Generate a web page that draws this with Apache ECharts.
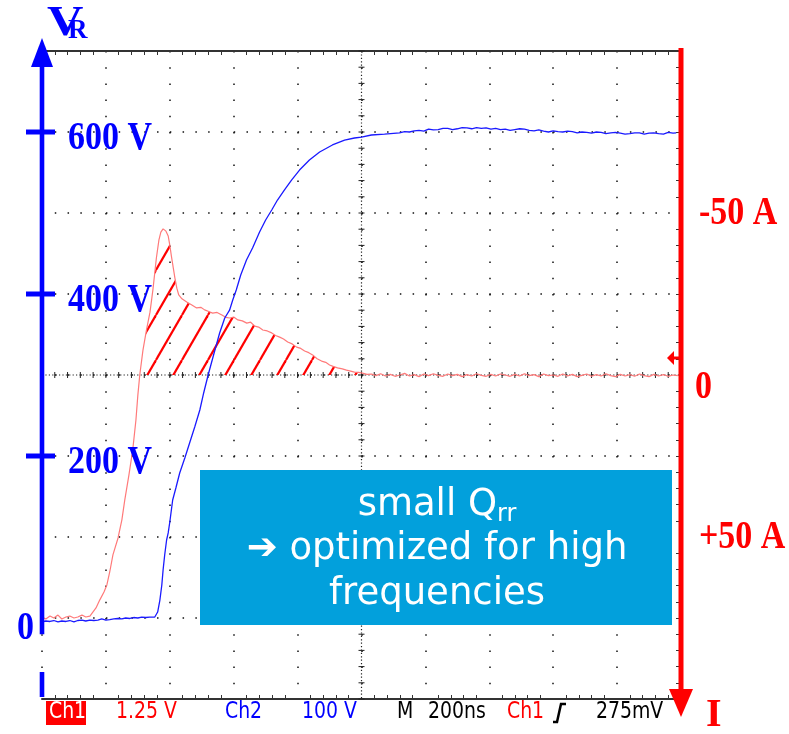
<!DOCTYPE html>
<html>
<head>
<meta charset="utf-8">
<script src="https://cdn.jsdelivr.net/npm/echarts@6/dist/echarts.min.js"></script>
<style>
html, body { margin: 0; padding: 0; background: #fff; }
#main { width: 789px; height: 734px; }
</style>
</head>
<body>
<div id="main"></div>
<script>
// time in ns (200 ns / div), voltage in V (100 V / div), current in A (25 A / div, axis pointing down)
var voltTicks = [0, 200, 400, 600];
var ampTicks = [-50, 0, 50];

// Ch2: reverse voltage V_R
var voltTrace = [
  [0,-4.9],[12,-3.7],[25,-4.3],[37,-3.1],[50,-4.9],[62,-3.7],[75,-4.3],[87,-3.1],[100,-4.9],[112,-3.1],
  [125,-2.5],[137,-3.7],[150,-2.5],[162,-3.1],[175,-2.5],[187,-1.2],[200,-2.5],[212,-1.9],[225,-1.2],
  [237,-0.6],[250,-1.2],[262,0],[275,-0.6],[287,0.6],[300,0],[312,1.2],[325,0.6],[337,1.2],[353,1.2],
  [362,7.4],[369,22.2],[375,40.7],[379,59.3],[384,77.8],[390,96.3],[395,105],[400,118.5],[409,145.7],
  [419,160.5],[431,179],[447,197.5],[462,216],[478,235.8],[494,256.8],[506,277.8],[520,300],[537,324.7],
  [556,351.9],[572,370.4],[587,380],[597,392.6],[608,405],[622,423.5],[640,442],[659,456.8],[681,476.5],
  [700,491.4],[719,503.7],[737,516],[759,528.4],[781,540.7],[806,553],[837,565.4],[869,575.3],[909,584],
  [947,590],[978,592.6],[1000,593.8],[1031,596.3],[1072,597.5],[1119,599],[1135,600.5],[1150,600],
  [1165,601.5],[1180,602],[1195,601],[1210,603.5],[1225,602.5],[1240,603],[1255,604.5],[1270,604.5],
  [1285,603],[1300,604],[1315,605.5],[1330,605],[1345,604],[1360,605.5],[1375,604.5],[1390,605],
  [1405,603.5],[1420,604.5],[1435,603],[1450,603.5],[1465,602],[1480,603],[1495,604],[1510,603.5],
  [1525,602],[1540,601.5],[1555,602.5],[1570,601],[1585,600],[1600,601.5],[1615,600.5],[1630,600],
  [1645,601],[1660,600.5],[1675,599],[1690,600],[1705,599.5],[1720,598.5],[1735,600],[1750,599.5],
  [1765,598],[1780,599],[1795,599.5],[1810,598.5],[1825,597.5],[1840,598],[1855,599],[1870,599],
  [1885,597.5],[1900,598.5],[1915,599],[1930,598],[1945,597.5],[1960,599.5],[1975,598.5],[1985,599]
];

// Ch1: diode current I (negative = reverse recovery)
var ampTrace = [
  [0,74.7],[12,75.3],[25,74.4],[37,75],[50,74.1],[62,75.3],[75,74.7],[87,74.4],[100,75],[112,74.7],
  [125,74.1],[137,74.7],[150,74.4],[156,74.7],[169,71.9],[181,69.4],[194,67],[203,64.8],[212,60.8],
  [222,55.5],[238,50.3],[250,44.7],[259,38.6],[272,30.9],[284,23.1],[294,13.9],[300,6.2],[306,0],
  [316,-7.7],[327,-13.9],[338,-19.4],[347,-26.2],[358,-36.1],[366,-41.7],[372,-44.1],[379,-45.1],
  [388,-44.4],[395,-42.9],[400,-40.1],[405,-36.7],[411,-33],[416,-29.9],[422,-26.8],[428,-24.7],
  [438,-23.5],[453,-22.5],[469,-21.6],[484,-20.7],[497,-20.9],[509,-20.1],[522,-19.6],[534,-19.1],
  [548,-19.3],[563,-18.5],[575,-17.8],[588,-17.6],[600,-17.9],[613,-17],[627,-16.7],[641,-16],
  [653,-16.3],[666,-15.1],[678,-14.8],[691,-13.9],[705,-13.6],[719,-13],[731,-12.2],[744,-11.7],
  [756,-11.1],[769,-10.2],[783,-9.6],[797,-8.6],[810,-8.2],[822,-7.4],[835,-6.9],[847,-6.2],
  [861,-5],[875,-4.3],[888,-3.9],[900,-3.1],[913,-2.6],[925,-2.2],[940,-1.9],[953,-1.5],[966,-1.2],
  [978,-0.9],[991,-0.8],[1003,-0.6],[1017,-0.2],[1031,-0.3],[1045,0.2],[1060,-0.4],[1075,0.3],
  [1090,-0.2],[1105,0.4],[1120,0],[1135,-0.5],[1150,0.3],[1165,-0.1],[1180,0.5],[1195,-0.3],
  [1210,0.2],[1225,-0.4],[1240,0.1],[1255,0.4],[1270,-0.3],[1285,0.2],[1300,-0.2],[1315,0.5],
  [1330,-0.1],[1345,0.3],[1360,-0.4],[1375,0.1],[1390,0.4],[1405,-0.2],[1420,0.3],[1435,-0.3],
  [1450,0],[1465,0.4],[1480,-0.2],[1495,0.3],[1510,-0.4],[1525,0.2],[1540,-0.1],[1555,0.5],
  [1570,-0.3],[1585,0.2],[1600,0],[1615,0.4],[1630,-0.3],[1645,0.3],[1660,-0.2],[1675,0.5],
  [1690,0.1],[1705,-0.3],[1720,0.4],[1735,-0.1],[1750,0.3],[1765,-0.4],[1780,0.2],[1795,0.5],
  [1810,-0.2],[1825,0.3],[1840,-0.1],[1855,0.4],[1870,-0.3],[1885,0.2],[1900,0.5],[1915,-0.2],
  [1930,0.3],[1945,-0.1],[1960,0.4],[1975,0],[1990,0.2]
];

// scope status line
var statusItems = [
  { text: 'Ch1', x: 49, color: '#fff', box: true },
  { text: '1.25 V', x: 116, color: '#ff0000' },
  { text: 'Ch2', x: 225, color: '#0000ff' },
  { text: '100 V', x: 302, color: '#0000ff' },
  { text: 'M', x: 397, color: '#000' },
  { text: '200ns', x: 428, color: '#000' },
  { text: 'Ch1', x: 507, color: '#ff0000' },
  { text: '275mV', x: 596, color: '#000' }
];

// reverse recovery charge area = negative part of the current pulse
var qrrArea = ampTrace.filter(function (p) { return p[0] >= 306 && p[0] <= 1031 && p[1] <= 0; });

var hatch = (function () {
  var c = document.createElement('canvas');
  c.width = 26; c.height = 45;
  var ctx = c.getContext('2d');
  ctx.strokeStyle = '#ff0000';
  ctx.lineWidth = 2.2;
  for (var k = -1; k <= 1; k++) {
    ctx.beginPath();
    ctx.moveTo(k * 26, 45);
    ctx.lineTo(k * 26 + 26, 0);
    ctx.stroke();
  }
  return c;
})();

var chart = echarts.init(document.getElementById('main'));

var option = {
  animation: false,
  grid: { left: 42, top: 51, width: 639, height: 648 },
  xAxis: [{
    type: 'value', min: 0, max: 2000, interval: 200, position: 'bottom',
    axisLine: { show: true, onZero: false, lineStyle: { color: '#333', width: 2 } },
    axisTick: { show: false, inside: true },
    minorTick: { show: true, splitNumber: 5, length: 4, lineStyle: { color: '#333' } },
    axisLabel: { show: false },
    splitLine: { show: true, lineStyle: { color: '#111', width: 1.5, type: [1.5, 14.7] } }
  }, {
    type: 'value', min: 0, max: 2000, interval: 200, position: 'top',
    axisLine: { show: true, onZero: false, lineStyle: { color: '#333', width: 2 } },
    axisTick: { show: false, inside: true },
    minorTick: { show: true, splitNumber: 5, length: 4, lineStyle: { color: '#333' } },
    axisLabel: { show: false },
    splitLine: { show: false }
  }],
  yAxis: [{
    type: 'value', min: -100, max: 700, interval: 100, position: 'left',
    axisLine: { show: false, onZero: false },
    axisTick: { show: false },
    axisLabel: { show: false },
    splitLine: { show: true, lineStyle: { color: '#111', width: 1.5, type: [1.5, 11.28] } }
  }, {
    type: 'value', min: -100, max: 100, interval: 50, inverse: true, position: 'right',
    axisLine: { show: false, onZero: false },
    axisTick: { show: false, inside: true },
    minorTick: { show: true, splitNumber: 10, length: 5, lineStyle: { color: '#333' } },
    axisLabel: { show: false },
    splitLine: { show: false }
  }],
  series: [{
    // centre cross-hair of the scope graticule
    type: 'custom', xAxisIndex: 0, yAxisIndex: 1, silent: true, z: 1,
    data: [0],
    renderItem: function (params, api) {
      var c = api.coord([1000, 0]);
      var l = api.coord([0, 0])[0], r = api.coord([2000, 0])[0];
      var t = api.coord([1000, -100])[1], b = api.coord([1000, 100])[1];
      var st = { stroke: '#222', lineWidth: 1.2, lineDash: [1.2, 2.2] };
      var kids = [
        { type: 'line', shape: { x1: l, y1: c[1], x2: r, y2: c[1] }, style: st },
        { type: 'line', shape: { x1: c[0], y1: t, x2: c[0], y2: b }, style: st }
      ];
      for (var s = 0; s <= 2000; s += 40) {
        var x = api.coord([s, 0])[0];
        kids.push({ type: 'line', shape: { x1: x, y1: c[1] - 3, x2: x, y2: c[1] + 3 }, style: { stroke: '#222', lineWidth: 1 } });
      }
      for (var a = -100; a <= 100; a += 5) {
        var y = api.coord([1000, a])[1];
        kids.push({ type: 'line', shape: { x1: c[0] - 3, y1: y, x2: c[0] + 3, y2: y }, style: { stroke: '#222', lineWidth: 1 } });
      }
      return { type: 'group', children: kids };
    }
  }, {
    name: 'Qrr', type: 'line', xAxisIndex: 0, yAxisIndex: 1, z: 2,
    data: qrrArea, symbol: 'none', silent: true,
    lineStyle: { width: 0, opacity: 0 },
    areaStyle: { color: { image: hatch, repeat: 'repeat' }, opacity: 1 }
  }, {
    name: 'I', type: 'line', xAxisIndex: 0, yAxisIndex: 1, z: 3,
    data: ampTrace, symbol: 'none',
    lineStyle: { color: '#ff7a7a', width: 1.2 }
  }, {
    name: 'VR', type: 'line', xAxisIndex: 0, yAxisIndex: 0, z: 4,
    data: voltTrace, symbol: 'none',
    lineStyle: { color: '#1a1aff', width: 1.3 }
  }]
};
chart.setOption(option);

var px = function (t) { return chart.convertToPixel({ xAxisIndex: 0 }, t); };
var pyV = function (v) { return chart.convertToPixel({ yAxisIndex: 0 }, v); };
var pyA = function (a) { return chart.convertToPixel({ yAxisIndex: 1 }, a); };

var xL = px(0), xR = px(2000), yTop = pyV(700), yBot = pyV(-100);
var serifFont = 'bold 40px "Liberation Serif"';

function label(text, x, y, color, font, sx, align, z) {
  return {
    type: 'text', x: x, y: y, scaleX: sx || 1, z: z || 20,
    style: { text: text, fill: color, font: font, align: align || 'left', verticalAlign: 'middle',
      textAlign: align || 'left', textVerticalAlign: 'middle' }
  };
}

var g = [];
// blue voltage axis with arrow
g.push({ type: 'polygon', z: 20, shape: { points: [[xL - 11, yTop + 16], [xL + 11, yTop + 16], [xL, yTop - 13]] }, style: { fill: '#0000ff' } });
g.push({ type: 'rect', z: 20, shape: { x: xL - 2.3, y: yTop + 14, width: 4.6, height: pyV(-20) - yTop - 14 }, style: { fill: '#0000ff' } });
g.push({ type: 'rect', z: 20, shape: { x: xL - 2.3, y: yBot - 27, width: 4.6, height: 25 }, style: { fill: '#0000ff' } });
voltTicks.forEach(function (v) {
  var y = pyV(v);
  if (v !== 0) {
    g.push({ type: 'rect', z: 20, shape: { x: xL - 16, y: y - 2.5, width: 29, height: 5 }, style: { fill: '#0000ff' } });
    g.push(label(v + ' V', xL + 26, y + 7, '#0000ff', serifFont, 0.85));
  } else {
    g.push(label('0', xL - 25, y + 11, '#0000ff', serifFont, 0.85));
  }
});
g.push(label('V', xL + 5, 24, '#0000ff', 'bold 42px "Liberation Serif"', 1.2));
g.push(label('R', xL + 26, 31, '#0000ff', 'bold 27px "Liberation Serif"', 1));

// red current axis pointing down
g.push({ type: 'rect', z: 20, shape: { x: xR - 2.5, y: yTop - 3, width: 5, height: yBot - 10 - yTop + 3 }, style: { fill: '#ff0000' } });
g.push({ type: 'polygon', z: 20, shape: { points: [[xR - 12, yBot - 10], [xR + 12, yBot - 10], [xR, yBot + 18]] }, style: { fill: '#ff0000' } });
ampTicks.forEach(function (a) {
  var y = pyA(a);
  if (a === 0) {
    g.push(label('0', xR + 14, y + 13, '#ff0000', serifFont, 0.85));
  } else {
    g.push(label((a < 0 ? '-' : '+') + Math.abs(a) + ' A', xR + 18, y + 1, '#ff0000', serifFont, 0.85));
  }
});
g.push(label('I', xR + 25, 716, '#ff0000', serifFont, 1));
// Ch1 ground marker
var yg = pyA(0) - 17;
g.push({ type: 'polygon', z: 20, shape: { points: [[xR - 14, yg], [xR - 7, yg - 7], [xR - 7, yg + 7]] }, style: { fill: '#ff0000' } });
g.push({ type: 'rect', z: 20, shape: { x: xR - 8, y: yg - 1.5, width: 6, height: 3 }, style: { fill: '#ff0000' } });

// callout box
g.push({ type: 'rect', z: 30, shape: { x: 200, y: 470, width: 472, height: 155 }, style: { fill: '#02a0dc' } });
g.push({
  type: 'text', x: 437, y: 505, z: 31,
  style: {
    text: '{m|small Q}{s|rr}', align: 'center', verticalAlign: 'middle', textAlign: 'center', textVerticalAlign: 'middle',
    rich: {
      m: { fill: '#fff', fontSize: 37, fontFamily: 'DejaVu Sans', lineHeight: 44 },
      s: { fill: '#fff', fontSize: 24, fontFamily: 'DejaVu Sans', lineHeight: 24, verticalAlign: 'bottom' }
    }
  }
});
g.push(label('\u2794 optimized for high', 437, 549, '#fff', '37px "DejaVu Sans"', 1, 'center', 31));
g.push(label('frequencies', 437, 594, '#fff', '37px "DejaVu Sans"', 1, 'center', 31));

// status line
statusItems.forEach(function (it) {
  if (it.box) {
    g.push({ type: 'rect', z: 20, shape: { x: it.x - 3, y: 701, width: 40, height: 24 }, style: { fill: '#ff0000' } });
  }
  g.push(label(it.text, it.x, 712, it.color, '23px "DejaVu Sans"', 0.82, 'left', 21));
});
g.push({ type: 'polyline', z: 20, shape: { points: [[553, 722], [557, 722], [561, 704], [566, 704]] }, style: { stroke: '#000', lineWidth: 2.5, fill: null } });

chart.setOption({ graphic: g });
</script>
</body>
</html>
